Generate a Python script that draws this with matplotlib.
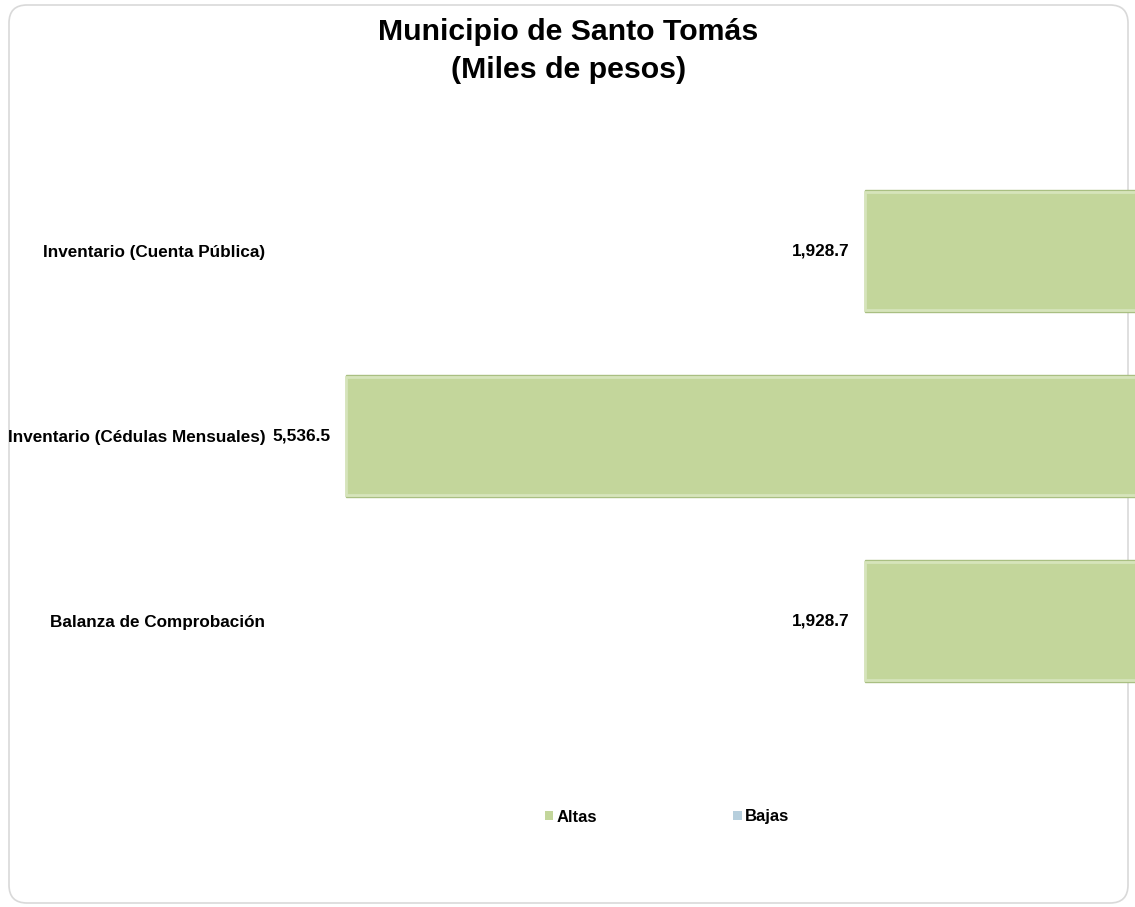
import matplotlib
matplotlib.use('Agg')
import matplotlib.pyplot as plt
from matplotlib.patches import FancyBboxPatch, Patch
from matplotlib.transforms import IdentityTransform

# miles de pesos
categorias = ['Inventario (Cuenta Pública)',
              'Inventario (Cédulas Mensuales)',
              'Balanza de Comprobación']
altas = [1928.7, 5536.5, 1928.7]
bajas = [0.0, 0.0, 0.0]

verde = '#c3d69b'
azul = '#b7cfdd'

plt.rcParams['font.family'] = ['Liberation Sans', 'DejaVu Sans']

fig = plt.figure(figsize=(11.35, 9.07), dpi=100)
fig.patch.set_facecolor('white')

# marco redondeado del grafico (en pixeles)
marco = FancyBboxPatch((9, 4), 1119, 898, boxstyle='round,pad=0,rounding_size=18',
                       transform=IdentityTransform(), facecolor='white',
                       edgecolor='#d9d9d9', linewidth=1.2, zorder=-5)
fig.patches.append(marco)

# el eje se sale un poco por la derecha, igual que en la hoja original
ax = fig.add_axes([300 / 1135, 193.5 / 907, 842 / 1135, 555 / 907])
ax.set_facecolor('none')

pos = list(range(len(categorias)))
ax.barh(pos, altas, height=0.66, color=verde, edgecolor='#a9bf82', linewidth=1.0)
ax.barh(pos, altas, height=0.66 - 0.02, color=verde, edgecolor='#d6e4bb', linewidth=2.0)
ax.barh(pos, bajas, height=0.66, color=azul, linewidth=0)

for i, v in enumerate(altas):
    ax.annotate('{:,.1f}'.format(v), xy=(v, i), xytext=(-11, 0),
                textcoords='offset points', ha='right', va='center',
                fontsize=12.4, fontweight='bold')

ax.set_xlim(5853, 0)
ax.set_ylim(2.5, -0.5)
ax.set_yticks(pos)
ax.set_yticklabels(categorias, fontsize=12.3, fontweight='bold')
ax.tick_params(axis='y', length=0, pad=25)
ax.set_xticks([])
for s in ax.spines.values():
    s.set_visible(False)

fig.text(0.5005, 1 - 18 / 907, 'Municipio de Santo Tomás\n(Miles de pesos)',
         ha='center', va='top', fontsize=21.8, fontweight='bold', linespacing=1.45)

handles = [Patch(facecolor=verde, edgecolor='none'), Patch(facecolor=azul, edgecolor='none')]
fig.legend(handles, ['Altas', 'Bajas'], loc='center', bbox_to_anchor=(667 / 1135, 90 / 907),
           ncol=2, frameon=False, handlelength=0.5, handleheight=0.5, handletextpad=0.2,
           columnspacing=8.2, prop={'weight': 'bold', 'size': 12})

fig.savefig('out.png', dpi=100)
